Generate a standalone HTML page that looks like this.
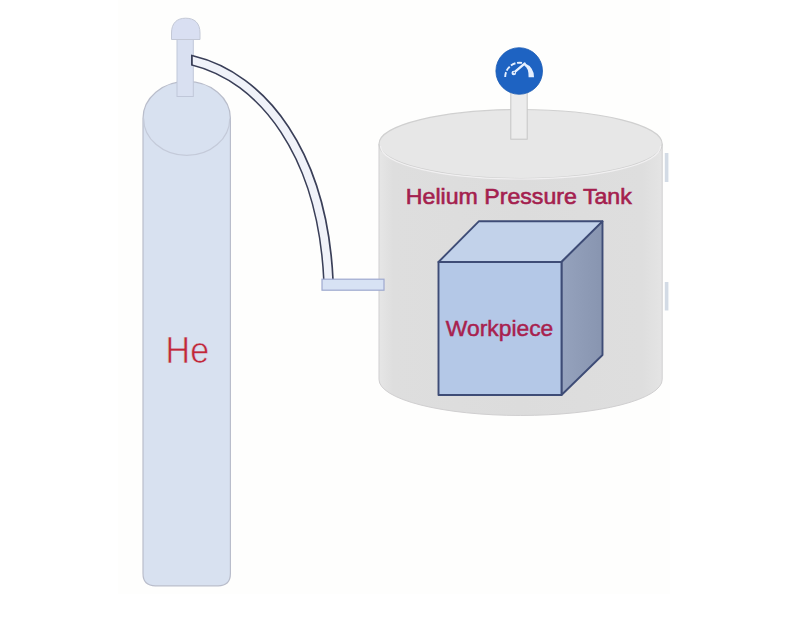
<!DOCTYPE html>
<html><head><meta charset="utf-8">
<style>
html,body{margin:0;padding:0;background:#fff;width:800px;height:618px;overflow:hidden}
svg{display:block}
text{font-family:"Liberation Sans",sans-serif}
</style></head>
<body>
<svg width="800" height="618" viewBox="0 0 800 618">
  <!-- faint background panel -->
  <rect x="118" y="0" width="552" height="594" fill="#fefefd"/>

  <!-- He cylinder -->
  <path d="M143,118.4 A43.7,37 0 0 1 230.4,118.4 L230.4,573.5 Q230.4,585.8 218,585.8 L155.5,585.8 Q143,585.8 143,573.5 Z" fill="#d8e1f0" stroke="#b9bdcb" stroke-width="1.2"/>
  <path d="M143.6,118.4 A43.1,37 0 0 0 229.8,118.4" fill="none" stroke="#c4cad9" stroke-width="1.2"/>
  <!-- cap & stem -->
  <rect x="177" y="36" width="16.3" height="60.5" fill="#d9e0f1" stroke="#c0c7d9" stroke-width="1"/>
  <path d="M171.5,39.5 L171.5,33 C171.5,23 177,18.2 185.7,18.2 C194.5,18.2 200,23 200,33 L200,39.5 Z" fill="#d9dff2" stroke="#c3c8d6" stroke-width="1"/>

  <!-- hose -->
  <clipPath id="hc1"><rect x="191" y="0" width="300" height="300"/></clipPath>
  <clipPath id="hc2"><rect x="192.8" y="0" width="300" height="300"/></clipPath>
  <path d="M186,58.8 L191.8,60.2 C263,77.1 322.8,154.3 328.5,281" fill="none" stroke="#3a3f58" stroke-width="10.8" clip-path="url(#hc1)"/>
  <path d="M186,58.8 L191.8,60.2 C263,77.1 322.8,154.3 328.5,282" fill="none" stroke="#f0f2f9" stroke-width="7.6" clip-path="url(#hc2)"/>
  <!-- tank -->
  <defs><linearGradient id="tg" gradientUnits="userSpaceOnUse" x1="379" y1="0" x2="662" y2="0">
    <stop offset="0" stop-color="#e6e6e6"/><stop offset="0.05" stop-color="#dedede"/><stop offset="0.5" stop-color="#dcdcdc"/><stop offset="0.93" stop-color="#dedede"/><stop offset="1" stop-color="#e4e4e4"/></linearGradient></defs>
  <path d="M379,144 L379,379.5 A141.6,36 0 0 0 662.2,379.5 L662.2,144 Z" fill="url(#tg)"/>
  <path d="M379,144 L379,379.5 A141.6,36 0 0 0 662.2,379.5 L662.2,144" fill="none" stroke="#d0cfd0" stroke-width="1"/>
  <ellipse cx="520.6" cy="144" rx="141.6" ry="34.5" fill="#e7e7e7" stroke="#d0d0d0" stroke-width="1.2"/>
  <path d="M380.5,146 A140.1,33 0 0 0 660.7,146" fill="none" stroke="#f1f0f1" stroke-width="1.2"/>
  <rect x="664.8" y="153" width="3.6" height="29" fill="#d3dbe5"/>
  <rect x="664.8" y="282" width="3.6" height="28.5" fill="#d3dbe5"/>

  <!-- connector -->
  <rect x="322" y="279.2" width="62" height="11" fill="#d7e2f4" stroke="#9ea9cf" stroke-width="1.2"/>
  <!-- gauge stem & gauge -->
  <rect x="510.8" y="92" width="16.4" height="47.2" fill="#ececec" stroke="#c6c6c6" stroke-width="1"/>
  <circle cx="519.2" cy="71" r="23.3" fill="#1e63c2" stroke="#1c5cb4" stroke-width="0.8"/>
  <g fill="none" stroke="#e6f0ff">
    <path d="M505.2,77 A14.3,14.3 0 0 1 522,62.9" stroke-width="1.9" stroke-dasharray="5 1.6"/>
    <line x1="513.4" y1="73.2" x2="524.6" y2="63.6" stroke-width="2.4" stroke-linecap="round"/>
  </g>
  <path d="M524.9,63.2 A14.5,14.5 0 0 1 534,77.3 L528.6,77.3 Q528.8,68 524.2,65.6 Z" fill="#e6f0ff"/>
  <circle cx="513.8" cy="73" r="2.3" fill="#e6f0ff"/>
  <circle cx="514.2" cy="72.6" r="0.8" fill="#3b6db8"/>

  <text x="405.8" y="204.2" font-size="22.5" fill="#a4204e" stroke="#a4204e" stroke-width="0.6" textLength="226" lengthAdjust="spacingAndGlyphs">Helium Pressure Tank</text>

  <!-- cube -->
  <defs><linearGradient id="rf" x1="0" y1="0" x2="1" y2="0"><stop offset="0" stop-color="#95a2bd"/><stop offset="1" stop-color="#8895b0"/></linearGradient></defs>
  <g stroke="#3e4c76" stroke-width="1.9" stroke-linejoin="round">
    <polygon points="438.5,262 561.5,262 602.5,221.3 478.8,221.3" fill="#c2d2ea"/>
    <polygon points="561.5,262 602.5,221.3 602.5,355 561.5,395" fill="url(#rf)"/>
    <rect x="438.5" y="262" width="123" height="133" fill="#b4c8e7"/>
  </g>
  <text x="445.8" y="335.5" font-size="21.3" fill="#a8214e" stroke="#a8214e" stroke-width="0.45" textLength="107.5" lengthAdjust="spacingAndGlyphs">Workpiece</text>

  <text x="165.6" y="363" font-size="36.5" fill="#c22739" stroke="#d8e1f0" stroke-width="0.6" textLength="43.5" lengthAdjust="spacingAndGlyphs">He</text>
</svg>
</body></html>
